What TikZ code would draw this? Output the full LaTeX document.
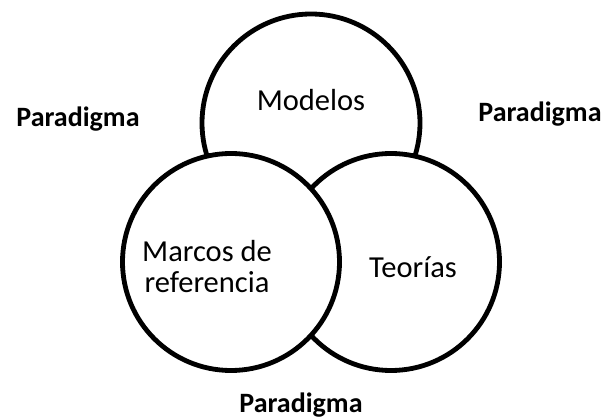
\documentclass[tikz,border=0pt]{standalone}
\usepackage{fontspec}
\setmainfont{Carlito}
\begin{document}
\begin{tikzpicture}[x=1pt,y=-1pt,
  circ/.style={draw=black,fill=white,line width=4.8pt},
  lbl/.style={font=\fontsize{30.5}{31}\selectfont,anchor=base,inner sep=0pt},
  para/.style={font=\fontsize{28}{30}\selectfont\bfseries,anchor=base,inner sep=0pt}]
\useasboundingbox[fill=white] (0,0) rectangle (606,419);
\draw[circ] (311,123) circle (109);
\draw[circ] (391,262) circle (108.5);
\draw[circ] (231,262) circle (108.5);
\node[lbl] (modelos) at (311,111) {Modelos};
\node[lbl] (marcos1) at (207,262) {Marcos de};
\node[lbl] (marcos2) at (207,293) {referencia};
\node[lbl] (teorias) at (413,278) {Teorías};
\node[para] (pl) at (78,127) {Paradigma};
\node[para] (pr) at (540,122) {Paradigma};
\node[para] (pb) at (301,413) {Paradigma};
\end{tikzpicture}
\end{document}
